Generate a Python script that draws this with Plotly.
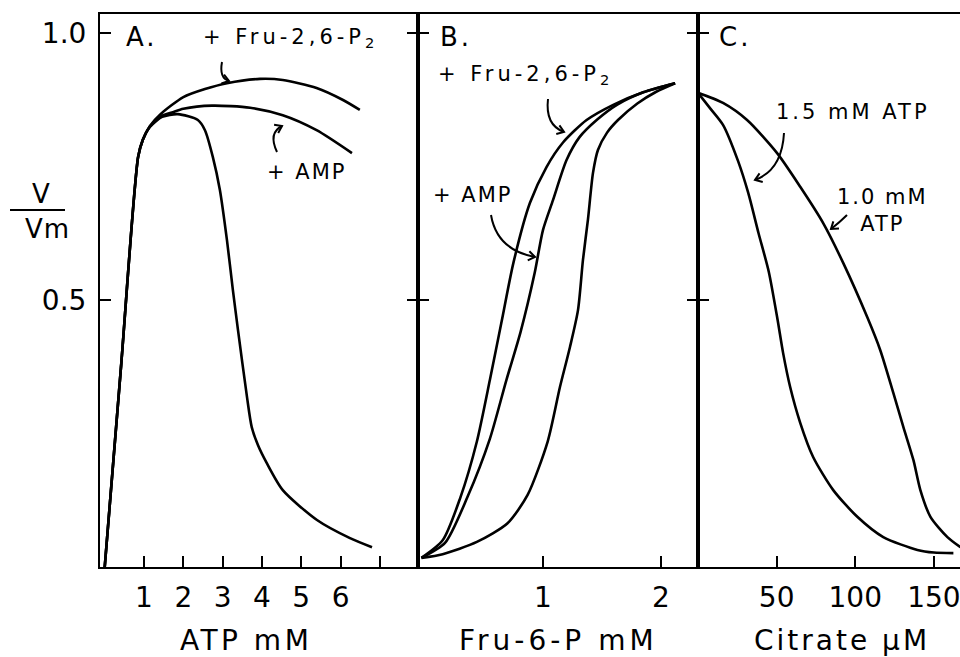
import math
import plotly.graph_objects as go

# ---------------- data ----------------
# Panel A: V/Vm vs ATP (mM)
a_ctrl_x = [0, 0.42, 0.85, 0.97, 1.15, 1.46, 1.86, 2.37, 2.55, 2.75, 2.93, 3.11, 3.26, 3.39, 3.62, 3.74, 3.9, 4.12, 4.53, 5.4, 6.24, 6.8]
a_ctrl_y = [0, 0.38, 0.768, 0.80, 0.824, 0.843, 0.848, 0.837, 0.818, 0.768, 0.706, 0.612, 0.519, 0.444, 0.318, 0.262, 0.228, 0.195, 0.144, 0.088, 0.054, 0.037]
a_fru_x = [0, 0.42, 0.85, 0.97, 1.15, 1.42, 2.0, 2.55, 3.11, 3.95, 4.53, 5.39, 6.05, 6.49]
a_fru_y = [0, 0.38, 0.768, 0.80, 0.826, 0.848, 0.880, 0.895, 0.906, 0.914, 0.912, 0.897, 0.875, 0.856]
a_amp_x = [0, 0.42, 0.85, 0.97, 1.15, 1.46, 1.71, 2.0, 2.73, 3.70, 4.53, 5.39, 6.29]
a_amp_y = [0, 0.38, 0.768, 0.80, 0.825, 0.845, 0.851, 0.858, 0.864, 0.860, 0.846, 0.818, 0.775]

# Panel B: V/Vm vs Fru-6-P (mM)
b_fru_x = [-0.03, 0.15, 0.30, 0.44, 0.55, 0.65, 0.75, 0.89, 1.03, 1.17, 1.37, 1.6, 1.85, 2.12]
b_fru_y = [0.017, 0.05, 0.13, 0.235, 0.35, 0.46, 0.57, 0.682, 0.749, 0.795, 0.837, 0.866, 0.889, 0.906]
b_amp_x = [-0.03, 0.17, 0.36, 0.55, 0.69, 0.81, 0.93, 1.0, 1.085, 1.2, 1.31, 1.46, 1.63, 1.85, 2.12]
b_amp_y = [0.017, 0.045, 0.131, 0.24, 0.35, 0.44, 0.551, 0.631, 0.687, 0.762, 0.805, 0.838, 0.866, 0.889, 0.906]
b_ctrl_x = [-0.03, 0.15, 0.44, 0.70, 0.87, 1.04, 1.144, 1.229, 1.297, 1.339, 1.381, 1.424, 1.466, 1.542, 1.636, 1.8, 1.96, 2.12]
b_ctrl_y = [0.017, 0.024, 0.047, 0.082, 0.135, 0.235, 0.337, 0.412, 0.481, 0.575, 0.650, 0.738, 0.781, 0.813, 0.837, 0.868, 0.89, 0.906]

# Panel C: V/Vm vs citrate (uM)
c_atp15_x = [0, 8, 15.9, 25.5, 32, 38.5, 45, 50.6, 54.1, 58.6, 65.0, 73.2, 86.0, 101.3, 117.8, 139.5, 150, 162.4]
c_atp15_y = [0.888, 0.858, 0.828, 0.76, 0.70, 0.625, 0.553, 0.463, 0.401, 0.337, 0.270, 0.206, 0.144, 0.094, 0.056, 0.032, 0.027, 0.026]
c_atp10_x = [0, 15.9, 31.2, 50.3, 65.0, 79.6, 92.4, 107.6, 115.9, 124.2, 130.6, 137.0, 141.4, 147.8, 158.6, 166.9]
c_atp10_y = [0.888, 0.869, 0.837, 0.775, 0.712, 0.644, 0.569, 0.468, 0.406, 0.326, 0.262, 0.200, 0.144, 0.094, 0.056, 0.037]

y_ticks = [0.5, 1.0]
y_ticktext = ["0.5", "1.0"]
a_ticks = [1, 2, 3, 4, 5, 6, 7]
a_ticktext = ["1", "2", "3", "4", "5", "6", " "]
b_ticks = [1, 2]
b_ticktext = ["1", "2"]
c_ticks = [50, 100, 150]
c_ticktext = ["50", "100", "150"]

# ---------------- layout helpers ----------------
W, H = 960, 657
PL, PT, PW, PH = 100, 14, 860, 553
FONT = "DejaVu Sans"


def px(x):
    return (x - PL) / PW


def py(y):
    return (PT + PH - y) / PH


dA = [0, px(418)]
dB = [px(418), px(698)]
dC = [px(698), 1.0]

fig = go.Figure()
line = dict(color="black", width=2.6)
for xs, ys in [(a_ctrl_x, a_ctrl_y), (a_fru_x, a_fru_y), (a_amp_x, a_amp_y)]:
    fig.add_trace(go.Scatter(x=xs, y=ys, mode="lines", line=dict(**line, shape="spline", smoothing=0.7),
                             xaxis="x", yaxis="y", showlegend=False, hoverinfo="skip"))
for xs, ys in [(b_fru_x, b_fru_y), (b_amp_x, b_amp_y), (b_ctrl_x, b_ctrl_y)]:
    fig.add_trace(go.Scatter(x=xs, y=ys, mode="lines", line=dict(**line, shape="spline", smoothing=0.7),
                             xaxis="x2", yaxis="y2", showlegend=False, hoverinfo="skip"))
for xs, ys in [(c_atp15_x, c_atp15_y), (c_atp10_x, c_atp10_y)]:
    fig.add_trace(go.Scatter(x=xs, y=ys, mode="lines", line=dict(**line, shape="spline", smoothing=0.7),
                             xaxis="x3", yaxis="y3", showlegend=False, hoverinfo="skip"))

yr = [0, PH / 534.0]
tickfont = dict(family=FONT, size=28, color="black")
common_x = dict(showline=True, linecolor="black", linewidth=2, mirror=True, ticks="inside",
                ticklen=11, tickwidth=2, tickcolor="black", showgrid=False, zeroline=False,
                tickfont=tickfont, ticklabelstandoff=4, ticklabeloverflow="allow", fixedrange=True)
common_y = dict(showline=True, linecolor="black", linewidth=2, ticks="inside", ticklen=11,
                tickwidth=2, tickcolor="black", showgrid=False, zeroline=False, range=yr,
                tickvals=y_ticks, fixedrange=True)

fig.update_layout(
    width=W, height=H,
    margin=dict(l=PL, r=W - PL - PW, t=PT, b=H - PT - PH, pad=0),
    paper_bgcolor="white", plot_bgcolor="white",
    xaxis=dict(domain=dA, range=[-0.12, 7.97], tickvals=a_ticks, ticktext=a_ticktext, anchor="y", **common_x),
    xaxis2=dict(domain=dB, range=[-0.059, 2.314], tickvals=b_ticks, ticktext=b_ticktext, anchor="y2", **common_x),
    xaxis3=dict(domain=dC, range=[0, 166.6], tickvals=c_ticks, ticktext=c_ticktext, anchor="y3", **common_x),
    yaxis=dict(anchor="x", mirror="ticks", ticktext=y_ticktext, showticklabels=True,
               tickfont=tickfont, ticklabelstandoff=6, **common_y),
    yaxis2=dict(anchor="x2", mirror="ticks", showticklabels=False, **common_y),
    yaxis3=dict(anchor="x3", mirror=False, showticklabels=False, **common_y),
)


def sp(text, ls):
    return f"<span style='letter-spacing:{ls}px'>{text}</span>"


def label(text, xc, yc, size, ls=0, xanchor="center"):
    fig.add_annotation(x=px(xc), y=py(yc), xref="paper", yref="paper", text=sp(text, ls) if ls else text,
                       showarrow=False, xanchor=xanchor, yanchor="middle",
                       font=dict(family=FONT, size=size, color="black"))


# panel letters
label("A.", 124, 37, 26, 3, "left")
label("B.", 438, 37, 26, 3, "left")
label("C.", 717, 37, 26, 3, "left")
# in-panel labels
label("+ Fru-2,6-P<sub>2</sub>", 290, 38, 21, 4)
label("+ AMP", 306, 172, 21, 2)
label("+ Fru-2,6-P<sub>2</sub>", 525, 75, 21, 4)
label("+ AMP", 472, 195, 21, 2)
label("1.5 mM ATP", 853, 112, 21, 3)
label("1.0 mM<br>ATP", 882, 210, 21, 2)
# axis titles
label("ATP mM", 246, 640, 28, 3.5)
label("Fru-6-P mM", 558, 640, 28, 4)
label("Citrate μM", 842, 640, 28, 3)
# y title V / Vm
label("V", 41, 194, 26, 0)
label("Vm", 47, 229, 26, 1)
fig.add_shape(type="line", xref="paper", yref="paper", x0=px(10), x1=px(65), y0=py(210), y1=py(210),
              line=dict(color="black", width=2))

# curved pointer arrows: start, control, tip (pixel positions of annotation decorations)
arrows = [
    ((222, 62), (219, 78), (229, 81)),
    ((277, 152), (268, 133), (282, 126)),
    ((548, 99), (545, 125), (564, 132)),
    ((491, 215), (497, 250), (535, 257)),
    ((784, 133), (782, 170), (755, 180)),
    ((847, 215), (840, 222), (831, 229)),
]
for (x0, y0), (cx, cy), (x1, y1) in arrows:
    path = f"M {px(x0)},{py(y0)} Q {px(cx)},{py(cy)} {px(x1)},{py(y1)}"
    fig.add_shape(type="path", xref="paper", yref="paper", path=path, line=dict(color="black", width=2))
    dx, dy = x1 - cx, y1 - cy
    n = math.hypot(dx, dy)
    ux, uy = dx / n, dy / n
    L = 8
    pts = []
    for ang in (math.radians(35), -math.radians(35)):
        rx = ux * math.cos(ang) - uy * math.sin(ang)
        ry = ux * math.sin(ang) + uy * math.cos(ang)
        pts.append((x1 - L * rx, y1 - L * ry))
    head = (f"M {px(pts[0][0])},{py(pts[0][1])} L {px(x1)},{py(y1)} "
            f"L {px(pts[1][0])},{py(pts[1][1])}")
    fig.add_shape(type="path", xref="paper", yref="paper", path=head, line=dict(color="black", width=2))

fig.write_html("out.html", config={"displayModeBar": False, "staticPlot": True},
               post_script="document.body.style.margin='0px';document.body.style.overflow='hidden';")
